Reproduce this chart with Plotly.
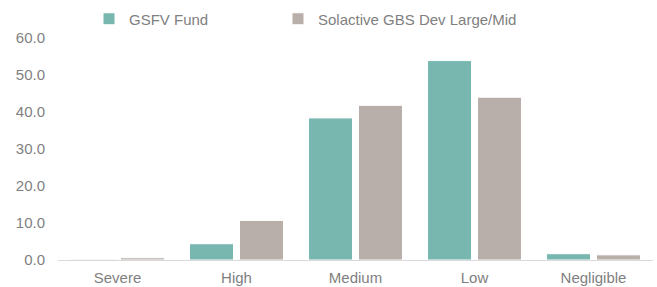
import plotly.graph_objects as go

categories = ["Severe", "High", "Medium", "Low", "Negligible"]
gsfv_values = [0.2, 4.4, 38.4, 53.9, 1.7]
solactive_values = [0.6, 10.7, 41.8, 44.0, 1.4]
series_names = ["GSFV Fund", "Solactive GBS Dev Large/Mid"]
y_ticks = [0, 10, 20, 30, 40, 50, 60]

TEAL = "#78B7B0"
TAUPE = "#B9AFAA"
TEXT = "#7F7F7F"
FONT = "Liberation Sans, Arial, sans-serif"

fig = go.Figure()
fig.add_trace(go.Bar(x=categories, y=gsfv_values, name=series_names[0], legend="legend",
                     marker=dict(color=TEAL, line=dict(color="white", width=1))))
fig.add_trace(go.Bar(x=categories, y=solactive_values, name=series_names[1], legend="legend2",
                     marker=dict(color=TAUPE, line=dict(color="white", width=1))))

legend_common = dict(orientation="h", xref="container", yref="container",
                     y=1 - 19 / 287, yanchor="middle", xanchor="left",
                     font=dict(size=15, color=TEXT), bgcolor="rgba(0,0,0,0)",
                     borderwidth=0)

fig.update_layout(
    width=657, height=287,
    margin=dict(l=58, r=4, t=38, b=27, autoexpand=False),
    paper_bgcolor="white", plot_bgcolor="white",
    font=dict(family=FONT, size=15, color=TEXT),
    barmode="group", bargap=0.16, bargroupgap=0.12,
    showlegend=True,
    legend=dict(x=89 / 657, **legend_common),
    legend2=dict(x=278 / 657, **legend_common),
    xaxis=dict(showline=True, linecolor="#D9D9D9", linewidth=1, showgrid=False,
               ticks="", zeroline=False, automargin=False, ticklabelstandoff=4),
    yaxis=dict(range=[0, 60], tickvals=y_ticks, tickformat=".1f", showgrid=False,
               zeroline=False, showline=False, ticks="", ticklabelstandoff=12,
               automargin=False),
)

fig.write_html("out.html", config={"displayModeBar": False},
               post_script="document.body.style.margin='0';document.body.style.overflow='hidden';")
